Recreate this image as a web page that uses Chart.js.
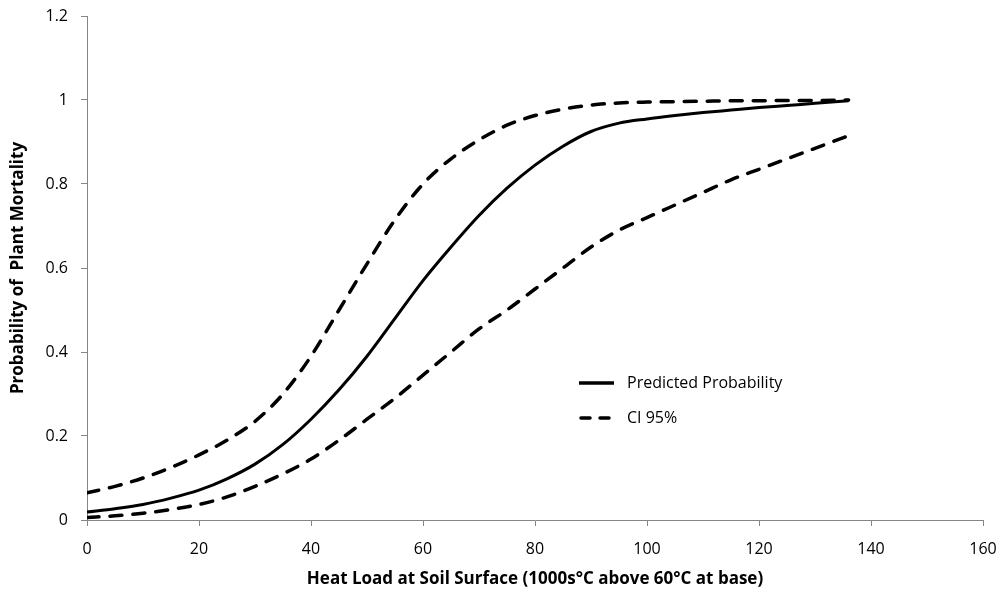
<!DOCTYPE html>
<html>
<head>
<meta charset="utf-8">
<script src="https://cdn.jsdelivr.net/npm/chart.js@4/dist/chart.umd.min.js"></script>
<style>
  html, body { margin: 0; padding: 0; background: #fff; }
  #wrap { width: 1002px; height: 599px; }
</style>
</head>
<body>
<div id="wrap"><canvas id="mortality"></canvas></div>
<script>
// heat load (1000s °C above 60 °C at base)
const heatLoad = [0, 5, 10, 15, 20, 25, 30, 35, 40, 45, 50, 55, 60, 65, 70, 75, 80, 85, 90, 95, 100, 105, 110, 115, 120, 125, 130, 136];

const predicted = [0.019, 0.027, 0.037, 0.052, 0.071, 0.098, 0.133, 0.18, 0.24, 0.31, 0.39, 0.48, 0.57, 0.65, 0.725, 0.79, 0.845, 0.89, 0.925, 0.945, 0.955, 0.963, 0.97, 0.976, 0.982, 0.987, 0.992, 0.998];
const ciUpper = [0.065, 0.08, 0.1, 0.125, 0.155, 0.19, 0.235, 0.3, 0.39, 0.5, 0.61, 0.715, 0.8, 0.86, 0.905, 0.94, 0.963, 0.978, 0.988, 0.993, 0.995, 0.996, 0.997, 0.998, 0.998, 0.999, 0.999, 1.0];
const ciLower = [0.006, 0.01, 0.016, 0.025, 0.037, 0.055, 0.08, 0.11, 0.145, 0.19, 0.24, 0.29, 0.345, 0.4, 0.455, 0.5, 0.55, 0.6, 0.65, 0.69, 0.72, 0.75, 0.78, 0.81, 0.835, 0.86, 0.885, 0.915];

const xTicks = [0, 20, 40, 60, 80, 100, 120, 140, 160];
const yTicks = [0, 0.2, 0.4, 0.6, 0.8, 1, 1.2];

const FONT = '"Open Sans", Lato, sans-serif';
const axisColor = '#868686';
const dash = [12, 11];

const pts = ys => heatLoad.map((x, i) => ({ x, y: ys[i] }));

// legend drawn inside the plot area, Excel style
const innerLegend = {
  id: 'innerLegend',
  afterDraw(chart) {
    const ctx = chart.ctx;
    const items = [
      { label: 'Predicted Probability', dash: [] },
      { label: 'CI 95%', dash: [9, 10] }
    ];
    const x0 = 579, x1 = 614, tx = 627;
    let y = 383;
    ctx.save();
    ctx.font = '16px ' + FONT;
    ctx.textBaseline = 'middle';
    ctx.fillStyle = '#000';
    items.forEach(it => {
      ctx.beginPath();
      ctx.setLineDash(it.dash);
      ctx.lineWidth = 3.5;
      ctx.lineCap = it.dash.length ? 'round' : 'butt';
      ctx.strokeStyle = '#000';
      ctx.moveTo(x0 + (it.dash.length ? 2 : 0), y);
      ctx.lineTo(x1, y);
      ctx.stroke();
      ctx.setLineDash([]);
      ctx.fillText(it.label, tx, y);
      y += 35;
    });
    ctx.restore();
  }
};

new Chart(document.getElementById('mortality'), {
  type: 'line',
  data: {
    datasets: [
      { label: 'Predicted Probability', data: pts(predicted), borderColor: '#000', borderWidth: 3, pointRadius: 0, cubicInterpolationMode: 'monotone', order: 1 },
      { label: 'CI 95% upper', data: pts(ciUpper), borderColor: '#000', borderWidth: 3.5, borderDash: dash, borderCapStyle: 'round', pointRadius: 0, cubicInterpolationMode: 'monotone', order: 2 },
      { label: 'CI 95% lower', data: pts(ciLower), borderColor: '#000', borderWidth: 3.5, borderDash: dash, borderCapStyle: 'round', pointRadius: 0, cubicInterpolationMode: 'monotone', order: 2 }
    ]
  },
  options: {
    responsive: true, maintainAspectRatio: false, animation: false,
    layout: { padding: { top: 16, right: 19, left: 0, bottom: 0 } },
    plugins: { legend: { display: false }, tooltip: { enabled: false } },
    scales: {
      x: {
        type: 'linear', min: 0, max: 160,
        afterBuildTicks: s => { s.ticks = xTicks.map(v => ({ value: v })); },
        afterFit: s => { s.height = 79; s.paddingLeft = 0; s.paddingRight = 0; },
        ticks: { color: '#000', font: { family: FONT, size: 16 }, padding: 14, maxRotation: 0 },
        grid: { drawOnChartArea: false, color: axisColor, tickLength: 6 },
        border: { color: axisColor, width: 1 },
        title: { display: true, text: 'Heat Load at Soil Surface (1000s°C above 60°C at base)', color: '#000', font: { family: FONT, size: 17, weight: 'bold' }, padding: { top: 0, bottom: 10 } }
      },
      y: {
        type: 'linear', min: 0, max: 1.2,
        afterBuildTicks: s => { s.ticks = yTicks.map(v => ({ value: v })); },
        afterFit: s => { s.width = 87; s.paddingTop = 0; s.paddingBottom = 0; },
        ticks: { color: '#000', font: { family: FONT, size: 16 }, padding: 13, callback: v => String(Math.round(v * 10) / 10) },
        grid: { drawOnChartArea: false, color: axisColor, tickLength: 6 },
        border: { color: axisColor, width: 1 },
        title: { display: true, text: 'Probability of  Plant Mortality', color: '#000', font: { family: FONT, size: 17, weight: 'bold' }, padding: { top: 8, bottom: 0 } }
      }
    }
  },
  plugins: [innerLegend]
});
</script>
</body>
</html>
